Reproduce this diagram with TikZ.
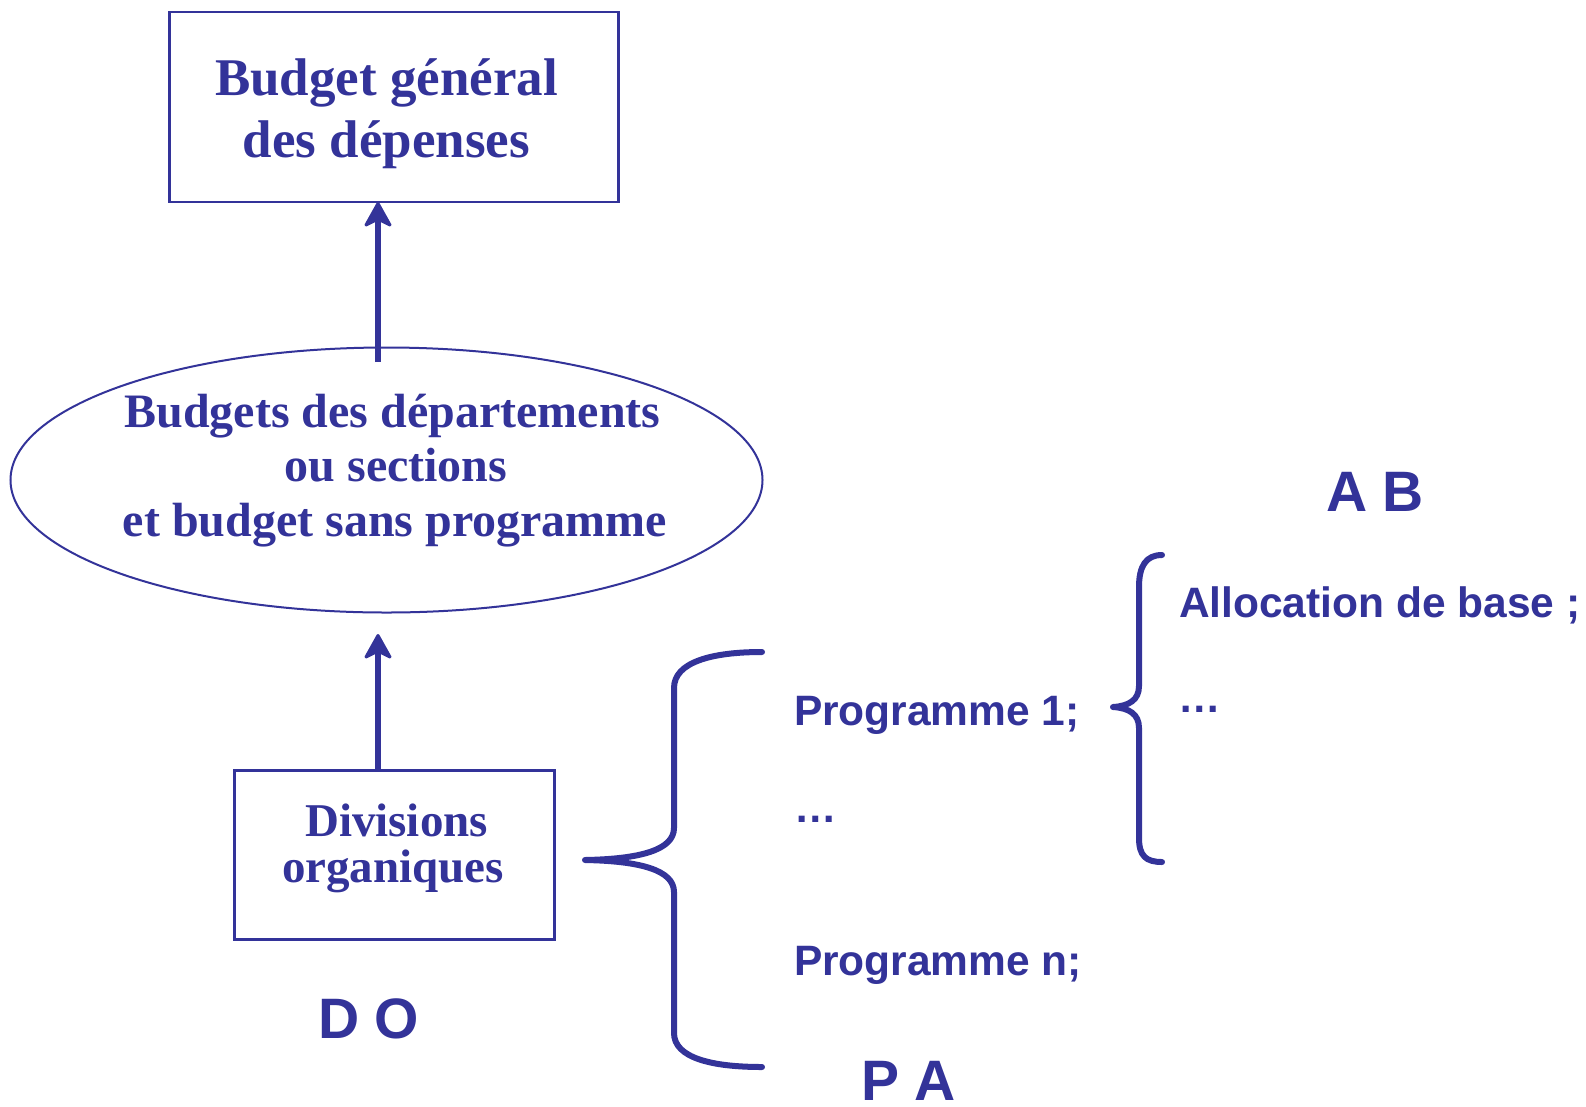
\documentclass[tikz,border=0pt]{standalone}
\usepackage{fontspec}
\setmainfont{Liberation Serif}
\setsansfont{Liberation Sans}
\usetikzlibrary{arrows.meta,shapes.geometric}
\definecolor{navy}{RGB}{51,51,153}
\tikzset{
  every node/.style={text=navy, inner sep=0pt, outer sep=0pt},
  boxshape/.style={draw=navy, line width=2.4pt, rectangle},
  ovalshape/.style={draw=navy, line width=2pt, ellipse},
  serifA/.style={font=\fontsize{53}{60}\selectfont\bfseries, anchor=base},
  serifB/.style={font=\fontsize{48}{55}\selectfont\bfseries, anchor=base},
  serifC/.style={font=\fontsize{47}{52}\selectfont\bfseries, anchor=base},
  sansbig/.style={font=\sffamily\bfseries\fontsize{57}{64}\selectfont, anchor=base west},
  sanstext/.style={font=\sffamily\bfseries\fontsize{42.5}{48}\selectfont, anchor=base west},
  headstyle/.style={fill=navy, draw=navy, line width=3pt, line join=round},
  shaftstyle/.style={draw=navy, line width=6pt},
  bracestyle/.style={draw=navy, line width=6pt, line cap=round, line join=round},
}
\begin{document}
\begin{tikzpicture}[x=1pt, y=-1pt]
\useasboundingbox (0,0) rectangle (1586,1106);
% shapes
\node[boxshape, minimum width=449pt, minimum height=190pt] (top) at (394,107) {};
\node[ovalshape, minimum width=752pt, minimum height=265pt] (ell) at (386.5,480) {};
\node[boxshape, minimum width=320pt, minimum height=169pt] (div) at (394.5,855) {};
% texts
\node[serifA] (t1) at (386.5,95) {Budget général};
\node[serifA] (t2) at (386.5,157) {des dépenses};
\node[serifB] (e1) at (392.5,427) {Budgets des départements};
\node[serifB] (e2) at (396,481) {ou sections};
\node[serifB] (e3) at (395,536) {et budget sans programme};
\node[serifC] (d1) at (396.5,836) {Divisions};
\node[serifC] (d2) at (393,882) {organiques};
\node[sansbig] (do) at (318,1038) {D O};
\node[sansbig] (ab) at (1326,511) {A B};
\node[sansbig] (pa) at (861,1100) {P A};
\node[sanstext] (alloc) at (1179,617) {Allocation de base ;};
\node[sanstext] (dots1) at (1178,712) {…};
\node[sanstext] (p1) at (794,725) {Programme 1;};
\node[sanstext] (dots2) at (794,822) {…};
\node[sanstext] (pn) at (794,975) {Programme n;};
% arrows (shaft + drawn head); yshift is page-up, so negative = down
\coordinate (a1s) at (378,362);
\coordinate (a1e) at (a1s |- top.south);
\draw[shaftstyle] (a1s) -- ([yshift=-14pt]a1e);
\draw[headstyle] ([yshift=-1.5pt]a1e) -- ([xshift=-12pt,yshift=-23pt]a1e)
  -- ([yshift=-17pt]a1e) -- ([xshift=12pt,yshift=-23pt]a1e) -- cycle;
\coordinate (a2s) at (378,769);
\coordinate (a2e) at (378,634);
\draw[shaftstyle] (a2s) -- ([yshift=-14pt]a2e);
\draw[headstyle] ([yshift=-1.5pt]a2e) -- ([xshift=-12pt,yshift=-23pt]a2e)
  -- ([yshift=-17pt]a2e) -- ([xshift=12pt,yshift=-23pt]a2e) -- cycle;
% big brace
\coordinate (bt) at (762,652);
\coordinate (btip) at (585,860);
\coordinate (bb) at (762,1067);
\draw[bracestyle] (bt) .. controls (712,652) and (674,662) .. (674,688)
  -- (674,828) .. controls (674,850) and (640,859) .. (btip)
  .. controls (640,861) and (674,870) .. (674,892)
  -- (674,1033) .. controls (674,1058) and (712,1067) .. (bb);
% small brace
\coordinate (st) at (1162,555);
\coordinate (stip) at (1113,707);
\coordinate (sb) at (1162,862);
\draw[bracestyle] (st) .. controls (1146,555) and (1139,566) .. (1139,587)
  -- (1139,686) .. controls (1139,700) and (1129,706) .. (stip)
  .. controls (1129,708) and (1139,714) .. (1139,728)
  -- (1139,838) .. controls (1139,856) and (1146,862) .. (sb);
\end{tikzpicture}
\end{document}
